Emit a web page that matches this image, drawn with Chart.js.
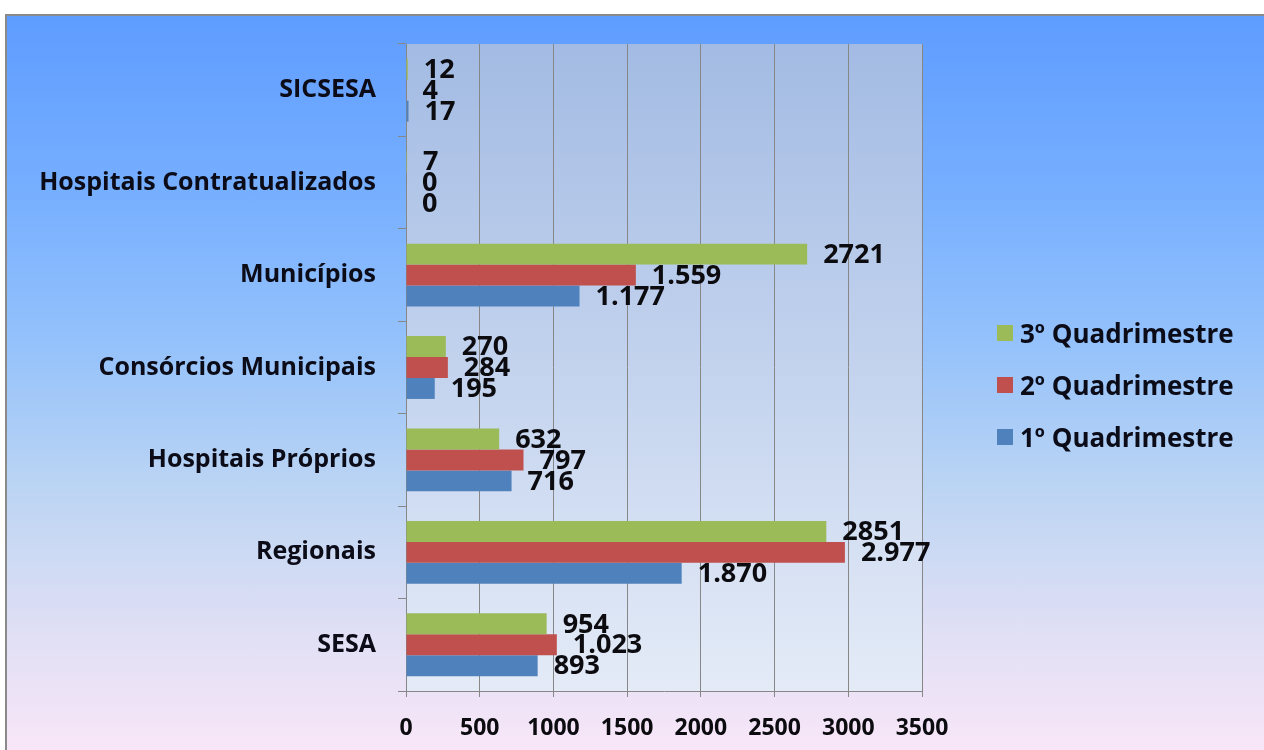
<!DOCTYPE html>
<html>
<head>
<meta charset="utf-8">
<script src="https://cdn.jsdelivr.net/npm/chart.js@4"></script>
<style>
  html, body { margin: 0; padding: 0; background: #fff; }
  .wrap { position: relative; width: 1264px; height: 750px; overflow: hidden; }
  .frame {
    position: absolute; left: 5px; top: 14px; width: 1259px; height: 736px;
    border-top: 2px solid #8a8a8a; border-left: 2px solid #8a8a8a; box-sizing: border-box;
    background: linear-gradient(to bottom, #5e9cff 0%, #78b0ff 25%, #95c2fb 45%, #bdd5f3 65%, #e2e0f5 85%, #f8e6f8 100%);
  }
  canvas { position: absolute; left: 0; top: 0; }
  .legend { position: absolute; left: 997px; top: 307px; font: bold 26px "Open Sans", sans-serif; color: #0c0c18; }
  .legend div { height: 52px; display: flex; align-items: center; margin: 0; }
  .legend span.box { display: inline-block; width: 16px; height: 16px; margin-right: 7px; }
</style>
</head>
<body>
<div class="wrap">
  <div class="frame"></div>
  <canvas id="myChart" width="1264" height="750"></canvas>
  <div class="legend" id="legend"></div>
</div>
<script>
var categories = ['SICSESA', 'Hospitais Contratualizados', 'Municípios', 'Consórcios Municipais', 'Hospitais Próprios', 'Regionais', 'SESA'];
var seriesNames = ['3º Quadrimestre', '2º Quadrimestre', '1º Quadrimestre'];
var q3 = [12, 7, 2721, 270, 632, 2851, 954];
var q2 = [4, 0, 1559, 284, 797, 2977, 1023];
var q1 = [17, 0, 1177, 195, 716, 1870, 893];
var xTicks = [0, 500, 1000, 1500, 2000, 2500, 3000, 3500];

var colors = ['#9bbb59', '#c0504d', '#4f81bd'];
// 3º series is shown without the thousands dot in the original
var useDots = [false, true, true];

function fmt(v, dots){
    var s = String(v);
    if(dots) s = s.replace(/\B(?=(\d{3})+(?!\d))/g, '.');
    return s;
}

var plotBg = {
    id: 'plotBg',
    beforeDraw: function(chart){
        var a = chart.chartArea, ctx = chart.ctx;
        var g = ctx.createLinearGradient(0, a.top, 0, a.bottom);
        g.addColorStop(0, '#a3bbe3');
        g.addColorStop(0.5, '#c3d3ee');
        g.addColorStop(1, '#e4ebf7');
        ctx.save();
        ctx.fillStyle = g;
        ctx.fillRect(a.left, a.top, a.right - a.left, a.bottom - a.top);
        ctx.restore();
    }
};

var valueLabels = {
    id: 'valueLabels',
    afterDatasetsDraw: function(chart){
        var ctx = chart.ctx;
        ctx.save();
        ctx.font = 'bold 27px "Open Sans", sans-serif';
        ctx.fillStyle = '#0c0c10';
        ctx.textAlign = 'left';
        ctx.textBaseline = 'middle';
        chart.data.datasets.forEach(function(ds, i){
            var meta = chart.getDatasetMeta(i);
            meta.data.forEach(function(bar, j){
                ctx.fillText(fmt(ds.data[j], useDots[i]), bar.x + 16, bar.y + 1);
            });
        });
        ctx.restore();
    }
};

var datasets = [q3, q2, q1].map(function(d, i){
    return { label: seriesNames[i], data: d, backgroundColor: colors[i], borderWidth: 0,
             categoryPercentage: 0.68, barPercentage: 1.0 };
});

var ctx = document.getElementById('myChart');
var myChart = new Chart(ctx, {
    type: 'bar',
    data: { labels: categories, datasets: datasets },
    options: {
        indexAxis: 'y',
        responsive: false,
        animation: false,
        layout: { padding: { left: 10, top: 44, right: 342, bottom: 0 } },
        plugins: { legend: { display: false }, tooltip: { enabled: false } },
        scales: {
            x: {
                min: 0, max: 3500,
                afterBuildTicks: function(s){ s.ticks = xTicks.map(function(v){ return { value: v }; }); },
                afterFit: function(s){ s.height = 59; },
                grid: { color: '#878787', lineWidth: 1, tickLength: 6, drawTicks: true },
                border: { color: '#878787' },
                ticks: {
                    color: '#0c0c10', padding: 18,
                    font: { family: 'Open Sans', weight: 'bold', size: 23 },
                    callback: function(v){ return String(v); }
                }
            },
            y: {
                afterFit: function(s){ s.width = 396; },
                grid: { drawOnChartArea: false, color: '#878787', tickLength: 8, offset: true },
                border: { color: '#878787' },
                ticks: { color: '#0c0c18', padding: 22, font: { family: 'Open Sans', weight: 'bold', size: 25 } }
            }
        }
    },
    plugins: [plotBg, valueLabels]
});

var legend = document.getElementById('legend');
seriesNames.forEach(function(n, i){
    var row = document.createElement('div');
    row.innerHTML = '<span class="box" style="background:' + colors[i] + '"></span>' + n;
    legend.appendChild(row);
});
</script>
</body>
</html>
